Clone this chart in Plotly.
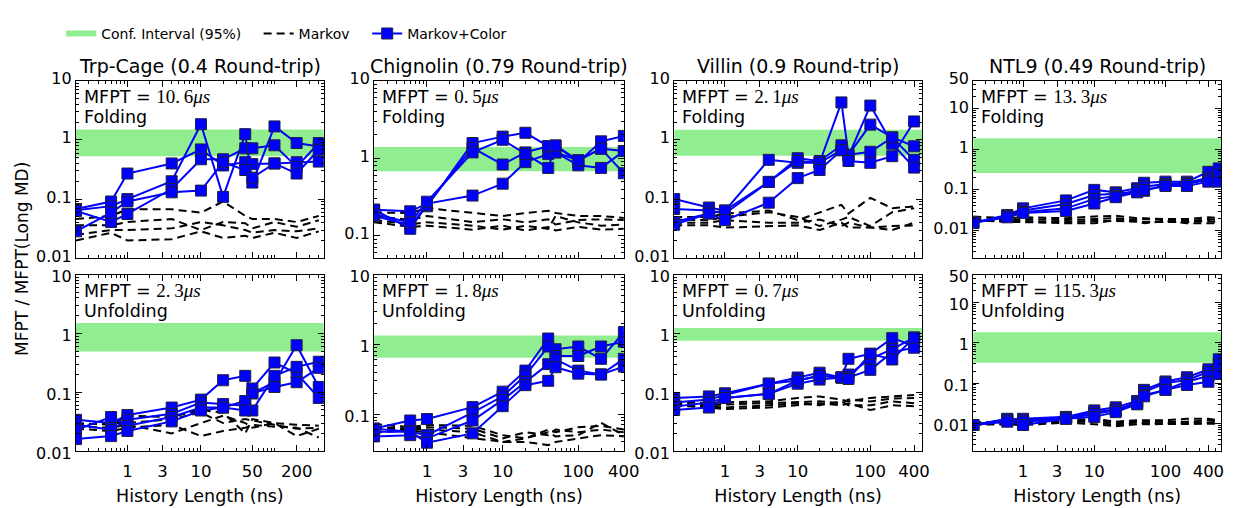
import math
import plotly.graph_objects as go

W, H = 1241, 508

# ---------------- data ----------------
X_HIST = [0.2, 0.6, 1, 4, 10, 20, 40, 50, 100, 200, 400]
X_HIST_NTL9 = [0.2, 0.6, 1, 4, 10, 20, 40, 50, 100, 200, 400, 560]

PROTEINS = ["Trp-Cage", "Chignolin", "Villin", "NTL9"]
ROUND_TRIP = ["0.4", "0.79", "0.9", "0.49"]
MFPT_FOLD = ["10.6", "0.5", "2.1", "13.3"]
MFPT_UNFOLD = ["2.3", "1.8", "0.7", "115.3"]

XTICKS = [[1, 3, 10, 50, 200], [1, 3, 10, 100, 400], [1, 3, 10, 100, 400], [1, 3, 10, 100, 400]]
YTICKS_TOP = [[0.01, 0.1, 1, 10], [0.1, 1, 10], [0.01, 0.1, 1, 10], [0.01, 0.1, 1, 10, 50]]
YTICKS_BOT = [[0.01, 0.1, 1, 10], [0.1, 1, 10], [0.01, 0.1, 1, 10], [0.01, 0.1, 1, 10, 50]]

CI_FOLD = [[0.53, 1.5], [0.68, 1.4], [0.54, 1.48], [0.26, 1.9]]
CI_UNFOLD = [[0.49, 1.5], [0.64, 1.34], [0.75, 1.23], [0.32, 1.83]]

TRP_FOLD_COLOR = [
    [0.068, 0.091, 0.27, 0.40, 0.69, 0.37, 0.42, 0.39, 0.40, 0.42, 0.43],
    [0.065, 0.076, 0.10, 0.20, 1.84, 0.109, 1.25, 0.19, 1.69, 0.885, 0.77],
    [0.063, 0.041, 0.056, 0.148, 0.47, 0.47, 0.72, 0.72, 0.81, 0.35, 0.885],
    [0.0285, 0.059, 0.091, 0.13, 0.139, 0.42, 0.31, 0.23, 0.40, 0.27, 0.68],
]
TRP_FOLD_MARKOV = [
    [0.046, 0.052, 0.067, 0.067, 0.059, 0.091, 0.052, 0.046, 0.046, 0.041, 0.052],
    [0.036, 0.036, 0.041, 0.046, 0.030, 0.041, 0.039, 0.032, 0.041, 0.034, 0.044],
    [0.025, 0.030, 0.030, 0.032, 0.041, 0.036, 0.030, 0.027, 0.030, 0.0285, 0.032],
    [0.020, 0.027, 0.020, 0.021, 0.0285, 0.022, 0.024, 0.022, 0.027, 0.022, 0.0285],
]
CHIG_FOLD_COLOR = [
    [0.217, 0.207, 0.26, 0.33, 0.47, 0.89, 1.13, 1.19, 0.94, 1.33, 1.24],
    [0.18, 0.138, 0.24, 1.57, 1.9, 2.13, 1.43, 1.46, 0.89, 1.65, 1.94],
    [0.217, 0.123, 0.25, 1.36, 0.83, 1.19, 1.43, 1.19, 0.81, 0.75, 1.24],
    [0.19, 0.149, 0.275, 1.19, 1.73, 1.13, 0.75, 1.46, 0.94, 1.33, 0.64],
]
CHIG_FOLD_MARKOV = [
    [0.20, 0.197, 0.227, 0.20, 0.18, 0.197, 0.21, 0.197, 0.18, 0.18, 0.17],
    [0.18, 0.16, 0.18, 0.15, 0.163, 0.149, 0.163, 0.14, 0.16, 0.163, 0.16],
    [0.16, 0.14, 0.15, 0.135, 0.12, 0.135, 0.123, 0.18, 0.149, 0.135, 0.14],
    [0.15, 0.13, 0.135, 0.12, 0.135, 0.117, 0.13, 0.117, 0.13, 0.12, 0.123],
]
VILLIN_FOLD_COLOR = [
    [0.10, 0.072, 0.064, 0.46, 0.41, 0.41, 4.3, 0.56, 0.63, 1.1, 0.46],
    [0.068, 0.064, 0.057, 0.195, 0.49, 0.44, 0.81, 0.53, 3.8, 0.86, 0.34],
    [0.041, 0.057, 0.064, 0.195, 0.44, 0.41, 0.67, 0.56, 1.81, 1.1, 0.78],
    [0.037, 0.057, 0.044, 0.087, 0.226, 0.31, 0.67, 0.44, 0.41, 0.53, 2.05],
]
VILLIN_FOLD_MARKOV = [
    [0.050, 0.050, 0.057, 0.064, 0.044, 0.060, 0.080, 0.057, 0.105, 0.070, 0.075],
    [0.045, 0.044, 0.050, 0.060, 0.050, 0.035, 0.045, 0.050, 0.035, 0.060, 0.070],
    [0.040, 0.040, 0.044, 0.040, 0.040, 0.045, 0.035, 0.040, 0.033, 0.030, 0.040],
    [0.036, 0.036, 0.033, 0.035, 0.036, 0.030, 0.040, 0.033, 0.033, 0.035, 0.036],
]
NTL9_FOLD_COLOR = [
    [0.0155, 0.024, 0.035, 0.055, 0.10, 0.087, 0.11, 0.15, 0.16, 0.16, 0.28, 0.34],
    [0.0155, 0.023, 0.031, 0.045, 0.075, 0.08, 0.09, 0.12, 0.14, 0.15, 0.20, 0.18],
    [0.0155, 0.022, 0.028, 0.035, 0.06, 0.07, 0.10, 0.095, 0.13, 0.14, 0.18, 0.25],
    [0.0155, 0.021, 0.027, 0.030, 0.046, 0.066, 0.087, 0.10, 0.125, 0.125, 0.16, 0.16],
]
NTL9_FOLD_MARKOV = [
    [0.022, 0.020, 0.021, 0.020, 0.022, 0.023, 0.020, 0.020, 0.019, 0.019, 0.021, 0.020],
    [0.019, 0.018, 0.019, 0.018, 0.019, 0.020, 0.018, 0.019, 0.018, 0.017, 0.019, 0.018],
    [0.017, 0.017, 0.017, 0.016, 0.017, 0.017, 0.016, 0.016, 0.016, 0.016, 0.017, 0.016],
    [0.018, 0.016, 0.016, 0.015, 0.015, 0.018, 0.017, 0.015, 0.017, 0.015, 0.015, 0.015],
]
TRP_UNFOLD_COLOR = [
    [0.034, 0.030, 0.041, 0.055, 0.075, 0.16, 0.19, 0.096, 0.148, 0.63, 0.123],
    [0.028, 0.023, 0.034, 0.043, 0.067, 0.063, 0.059, 0.116, 0.32, 0.21, 0.08],
    [0.023, 0.038, 0.027, 0.038, 0.055, 0.055, 0.071, 0.049, 0.19, 0.27, 0.33],
    [0.016, 0.018, 0.022, 0.032, 0.049, 0.055, 0.049, 0.096, 0.123, 0.148, 0.26],
]
TRP_UNFOLD_MARKOV = [
    [0.030, 0.028, 0.040, 0.038, 0.050, 0.045, 0.020, 0.035, 0.030, 0.028, 0.027],
    [0.028, 0.030, 0.030, 0.035, 0.045, 0.030, 0.035, 0.033, 0.028, 0.024, 0.025],
    [0.026, 0.025, 0.028, 0.020, 0.030, 0.040, 0.030, 0.025, 0.030, 0.018, 0.024],
    [0.024, 0.022, 0.025, 0.028, 0.018, 0.022, 0.025, 0.028, 0.026, 0.025, 0.017],
]
CHIG_UNFOLD_COLOR = [
    [0.062, 0.081, 0.085, 0.126, 0.21, 0.42, 1.21, 0.85, 0.93, 0.62, 1.5],
    [0.056, 0.056, 0.050, 0.105, 0.18, 0.36, 0.93, 0.68, 0.68, 0.93, 1.09],
    [0.048, 0.050, 0.045, 0.081, 0.16, 0.29, 0.52, 0.61, 0.42, 0.37, 0.62],
    [0.062, 0.056, 0.039, 0.053, 0.13, 0.26, 0.30, 0.47, 0.38, 0.37, 0.48],
]
CHIG_UNFOLD_MARKOV = [
    [0.072, 0.065, 0.070, 0.068, 0.050, 0.045, 0.060, 0.055, 0.065, 0.068, 0.060],
    [0.065, 0.062, 0.065, 0.062, 0.045, 0.055, 0.050, 0.060, 0.055, 0.060, 0.055],
    [0.060, 0.060, 0.060, 0.055, 0.040, 0.045, 0.055, 0.048, 0.050, 0.075, 0.050],
    [0.055, 0.058, 0.055, 0.045, 0.040, 0.040, 0.036, 0.040, 0.045, 0.050, 0.048],
]
VILLIN_UNFOLD_COLOR = [
    [0.080, 0.085, 0.096, 0.14, 0.178, 0.215, 0.178, 0.37, 0.45, 0.83, 0.61],
    [0.067, 0.075, 0.090, 0.14, 0.158, 0.19, 0.178, 0.20, 0.37, 0.54, 0.85],
    [0.057, 0.067, 0.080, 0.094, 0.14, 0.164, 0.178, 0.178, 0.24, 0.48, 0.57],
    [0.050, 0.055, 0.080, 0.094, 0.158, 0.19, 0.178, 0.168, 0.45, 0.36, 0.85],
]
VILLIN_UNFOLD_MARKOV = [
    [0.070, 0.065, 0.068, 0.070, 0.080, 0.085, 0.075, 0.070, 0.080, 0.085, 0.090],
    [0.065, 0.060, 0.062, 0.065, 0.068, 0.070, 0.065, 0.075, 0.070, 0.078, 0.080],
    [0.062, 0.058, 0.055, 0.060, 0.065, 0.060, 0.070, 0.060, 0.060, 0.070, 0.065],
    [0.060, 0.055, 0.052, 0.055, 0.060, 0.065, 0.060, 0.065, 0.050, 0.060, 0.058],
]
NTL9_UNFOLD_COLOR = [
    [0.0091, 0.0125, 0.013, 0.0145, 0.021, 0.025, 0.036, 0.068, 0.11, 0.14, 0.22, 0.39],
    [0.0091, 0.013, 0.012, 0.014, 0.019, 0.022, 0.033, 0.060, 0.10, 0.12, 0.19, 0.17],
    [0.0091, 0.012, 0.011, 0.013, 0.017, 0.021, 0.030, 0.050, 0.068, 0.11, 0.15, 0.30],
    [0.0091, 0.011, 0.0091, 0.013, 0.0145, 0.019, 0.030, 0.047, 0.068, 0.09, 0.108, 0.17],
]
NTL9_UNFOLD_MARKOV = [
    [0.0105, 0.011, 0.011, 0.012, 0.013, 0.011, 0.012, 0.012, 0.012, 0.013, 0.013, 0.012],
    [0.0100, 0.0105, 0.0105, 0.011, 0.012, 0.010, 0.011, 0.011, 0.011, 0.011, 0.012, 0.011],
    [0.0095, 0.010, 0.0095, 0.011, 0.011, 0.009, 0.0105, 0.010, 0.010, 0.0105, 0.0105, 0.0105],
    [0.0092, 0.0095, 0.009, 0.0105, 0.0095, 0.0085, 0.0095, 0.0095, 0.0095, 0.0095, 0.0095, 0.0098],
]

# ---------------- layout constants ----------------
COL_PX = [(77, 328), (379, 632), (683, 934), (986, 1237)]
ROW_PX = [(73, 259), (276, 461)]
XRANGE = [[-0.699, 2.67], [-0.699, 2.602], [-0.699, 2.71], [-0.699, 2.78]]
YRANGE_TOP = [[-2, 1], [-1.29, 1], [-2, 1], [-2.69, 1.699]]
YRANGE_BOT = [[-2, 1], [-1.53, 1], [-2, 1], [-2.69, 1.699]]

FONT = "DejaVu Sans"
BLUE = "#0000ff"
GREEN = "#90ee90"

panels_color = [TRP_FOLD_COLOR, CHIG_FOLD_COLOR, VILLIN_FOLD_COLOR, NTL9_FOLD_COLOR,
                TRP_UNFOLD_COLOR, CHIG_UNFOLD_COLOR, VILLIN_UNFOLD_COLOR, NTL9_UNFOLD_COLOR]
panels_markov = [TRP_FOLD_MARKOV, CHIG_FOLD_MARKOV, VILLIN_FOLD_MARKOV, NTL9_FOLD_MARKOV,
                 TRP_UNFOLD_MARKOV, CHIG_UNFOLD_MARKOV, VILLIN_UNFOLD_MARKOV, NTL9_UNFOLD_MARKOV]


def minor_vals(lo, hi, major):
    out = []
    for e in range(math.floor(lo) - 1, math.ceil(hi) + 1):
        for m in range(1, 10):
            v = m * 10 ** e
            lv = math.log10(v)
            if lo <= lv <= hi and not any(abs(v - t) < 1e-9 * max(1, t) for t in major):
                out.append(v)
    return out


def fmt(v):
    return "%g" % v


fig = go.Figure()
layout = dict(
    width=W, height=H, margin=dict(l=0, r=0, t=0, b=0),
    paper_bgcolor="white", plot_bgcolor="white",
    font=dict(family=FONT, size=16, color="black"),
    showlegend=True,
)
annotations = []

for i in range(8):
    r, c = divmod(i, 4)
    n = i + 1
    xs = X_HIST_NTL9 if c == 3 else X_HIST
    xn = "x" if n == 1 else f"x{n}"
    yn = "y" if n == 1 else f"y{n}"
    ci = CI_FOLD[c] if r == 0 else CI_UNFOLD[c]
    xr = XRANGE[c]
    yr = YRANGE_TOP[c] if r == 0 else YRANGE_BOT[c]

    # confidence band
    bx0, bx1 = 10 ** xr[0], 10 ** xr[1]
    fig.add_trace(go.Scatter(
        x=[bx0, bx1, bx1, bx0, bx0], y=[ci[0], ci[0], ci[1], ci[1], ci[0]],
        mode="none", fill="toself", fillcolor=GREEN, xaxis=xn, yaxis=yn,
        name="Conf. Interval (95%)", showlegend=(i == 0), legend="legend",
        hoverinfo="skip"))
    # markov dashed
    for k, ys in enumerate(panels_markov[i]):
        fig.add_trace(go.Scatter(
            x=xs, y=ys, mode="lines", xaxis=xn, yaxis=yn,
            line=dict(color="black", width=2, dash="8px,5px"),
            name="Markov", showlegend=(i == 0 and k == 0), legend="legend2"))
    # markov + color
    for k, ys in enumerate(panels_color[i]):
        fig.add_trace(go.Scatter(
            x=xs, y=ys, mode="lines+markers", xaxis=xn, yaxis=yn,
            line=dict(color=BLUE, width=2),
            marker=dict(symbol="square", size=11, color=BLUE,
                        line=dict(color="#202040", width=1)),
            name="Markov+Color", showlegend=(i == 0 and k == 0), legend="legend3"))

    x0, x1 = COL_PX[c]
    y0, y1 = ROW_PX[r]
    xt = XTICKS[c]
    yt = YTICKS_TOP[c] if r == 0 else YTICKS_BOT[c]
    xaxis = dict(
        domain=[x0 / W, x1 / W], type="log", range=xr, anchor=yn,
        tickvals=xt, ticktext=[fmt(v) for v in xt], showticklabels=(r == 1),
        ticks="inside", ticklen=6, tickwidth=1, tickcolor="black",
        mirror="allticks", showline=True, linecolor="black", linewidth=1.2,
        showgrid=False, zeroline=False, ticklabelstandoff=5,
        minor=dict(tickvals=minor_vals(xr[0], xr[1], xt), ticks="inside",
                   ticklen=3, tickwidth=1, tickcolor="black", showgrid=False),
        tickfont=dict(family=FONT, size=16.5, color="black"),
    )
    if r == 1:
        xaxis["title"] = dict(text="History Length (ns)", font=dict(family=FONT, size=17.5),
                              standoff=9)
    yaxis = dict(
        domain=[1 - y1 / H, 1 - y0 / H], type="log", range=yr, anchor=xn,
        tickvals=yt, ticktext=[fmt(v) for v in yt],
        ticks="inside", ticklen=6, tickwidth=1, tickcolor="black",
        mirror="allticks", showline=True, linecolor="black", linewidth=1.2,
        showgrid=False, zeroline=False,
        ticklabelshift=(-2 if r == 0 else 2),
        minor=dict(tickvals=minor_vals(yr[0], yr[1], yt), ticks="inside",
                   ticklen=3, tickwidth=1, tickcolor="black", showgrid=False),
        tickfont=dict(family=FONT, size=16, color="black"),
    )
    layout["xaxis" if n == 1 else f"xaxis{n}"] = xaxis
    layout["yaxis" if n == 1 else f"yaxis{n}"] = yaxis

    # panel titles
    if r == 0:
        annotations.append(dict(
            text=f"{PROTEINS[c]} ({ROUND_TRIP[c]} Round-trip)",
            xref=f"{xn} domain", yref=f"{yn} domain", x=0.5, y=1, yshift=2,
            xanchor="center", yanchor="bottom", showarrow=False,
            font=dict(family=FONT, size=19, color="black")))
    mf = (MFPT_FOLD if r == 0 else MFPT_UNFOLD)[c].replace(".", ".\u2009")
    annotations.append(dict(
        text=("MFPT = <span style='font-family:Liberation Serif;font-size:19px'>"
              f"{mf}<i>\u03bcs</i></span>"),
        xref=f"{xn} domain", yref=f"{yn} domain", x=0, y=1, xshift=6, yshift=-3,
        xanchor="left", yanchor="top", showarrow=False,
        font=dict(family=FONT, size=17.5, color="black")))
    annotations.append(dict(
        text="Folding" if r == 0 else "Unfolding",
        xref=f"{xn} domain", yref=f"{yn} domain", x=0, y=1, xshift=6, yshift=-24,
        xanchor="left", yanchor="top", showarrow=False,
        font=dict(family=FONT, size=17.5, color="black")))

annotations.append(dict(
    text="MFPT / MFPT(Long MD)", xref="paper", yref="paper", x=23 / W, y=1 - 260 / H,
    xanchor="center", yanchor="middle", textangle=-90, showarrow=False,
    font=dict(family=FONT, size=17, color="black")))
layout["annotations"] = annotations

leg_common = dict(orientation="h", yanchor="middle", y=1 - 24 / H, xanchor="left",
                  bgcolor="rgba(0,0,0,0)", font=dict(family=FONT, size=14, color="black"))
layout["legend"] = dict(leg_common, x=62 / W)
layout["legend2"] = dict(leg_common, x=262 / W)
layout["legend3"] = dict(leg_common, x=372 / W)

fig.update_layout(**layout)
fig.write_html("out.html")
